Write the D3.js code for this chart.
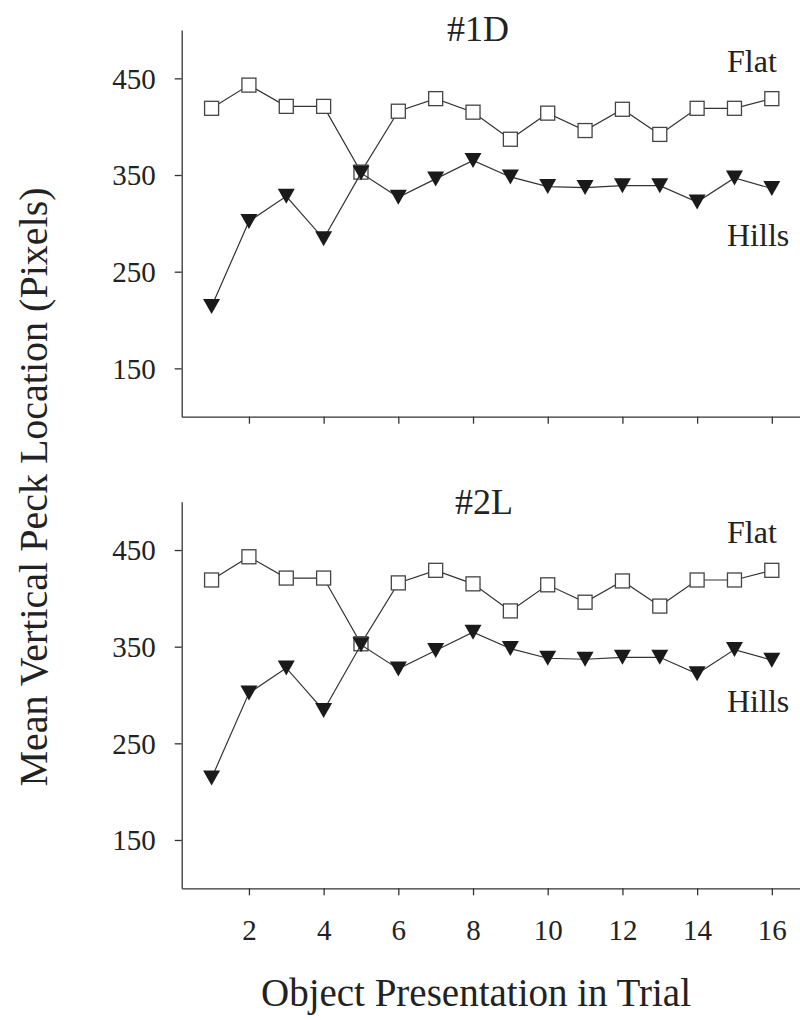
<!DOCTYPE html>
<html>
<head>
<meta charset="utf-8">
<script src="https://cdn.jsdelivr.net/npm/d3@7"></script>
<style>
  body { margin: 0; background: #fff; }
  svg text { font-family: "Liberation Serif", "Times New Roman", serif; fill: #222; }
</style>
</head>
<body>
<svg id="chart" width="800" height="1020"></svg>
<script>
// trial positions 1..16
const trials = d3.range(1, 17);

// panel #1D
const flat1D  = [419, 443, 421, 421, 353, 416, 429, 415, 387, 414, 396, 418, 392, 419, 419, 429];
const hills1D = [214, 302, 328, 284, 352, 327, 346, 365, 348, 338, 337, 339, 339, 322, 347, 336];

// panel #2L
const flat2L  = [419, 443, 421, 421, 353, 416, 429, 415, 387, 414, 396, 418, 392, 419, 419, 429];
const hills2L = [214, 302, 328, 284, 352, 327, 346, 365, 348, 338, 337, 339, 339, 322, 347, 336];

const yTicks = [150, 250, 350, 450];
const xTicks = [2, 4, 6, 8, 10, 12, 14, 16];

const svg = d3.select('#chart');

const x = d3.scaleLinear().domain([0.2, 16.8]).range([181.7, 801.7]);

const panels = [
  { title: '#1D', flat: flat1D, hills: hills1D, top: 30, bottom: 416.7, titleX: 478, titleY: 41, flatY: 72, hillsY: 246, labels: false },
  { title: '#2L', flat: flat2L, hills: hills2L, top: 501.7, bottom: 888.3, titleX: 484, titleY: 514, flatY: 543, hillsY: 712, labels: true }
];

const triangle = 'M-8.5,-7.5L8.5,-7.5L0,7.5Z';

panels.forEach(p => {
  const y = d3.scaleLinear().domain([100, 500]).range([p.bottom, p.top]);
  const g = svg.append('g');

  // axes
  const yAxis = g.append('g')
    .attr('transform', `translate(${x.range()[0]},0)`)
    .call(d3.axisLeft(y).tickValues(yTicks).tickSize(7).tickSizeOuter(0).tickPadding(19));
  yAxis.selectAll('text').attr('font-size', 29).attr('dy', '0.34em');

  const xAxis = g.append('g')
    .attr('transform', `translate(0,${p.bottom})`)
    .call(d3.axisBottom(x).tickValues(xTicks).tickSize(7).tickSizeOuter(0)
      .tickFormat(p.labels ? d3.format('d') : () => ''));
  xAxis.selectAll('text').attr('font-size', 29).attr('y', 52).attr('dy', 0);

  g.selectAll('.domain, .tick line').attr('stroke', '#333').attr('stroke-width', 1.3);

  const line = d3.line().x((d, i) => x(trials[i])).y(d => y(d));

  // flat series
  g.append('path').datum(p.flat)
    .attr('d', line).attr('fill', 'none').attr('stroke', '#333').attr('stroke-width', 1.2);
  g.selectAll('.sq').data(p.flat).enter().append('rect')
    .attr('class', 'sq')
    .attr('x', (d, i) => x(trials[i]) - 7)
    .attr('y', d => y(d) - 7)
    .attr('width', 14).attr('height', 14)
    .attr('fill', '#fff').attr('stroke', '#444').attr('stroke-width', 1.3);

  // hills series
  g.append('path').datum(p.hills)
    .attr('d', line).attr('fill', 'none').attr('stroke', '#333').attr('stroke-width', 1.2);
  g.selectAll('.tri').data(p.hills).enter().append('path')
    .attr('class', 'tri')
    .attr('transform', (d, i) => `translate(${x(trials[i])},${y(d)})`)
    .attr('d', triangle)
    .attr('fill', '#1a1a1a');

  // texts
  g.append('text').attr('x', p.titleX).attr('y', p.titleY)
    .attr('text-anchor', 'middle').attr('font-size', 36).text(p.title);
  g.append('text').attr('x', 727).attr('y', p.flatY).attr('font-size', 32).text('Flat');
  g.append('text').attr('x', 727).attr('y', p.hillsY).attr('font-size', 32).text('Hills');
});

// axis titles
svg.append('text')
  .attr('transform', 'translate(47,487) rotate(-90)')
  .attr('text-anchor', 'middle').attr('font-size', 40)
  .text('Mean Vertical Peck Location (Pixels)');

svg.append('text')
  .attr('x', 476).attr('y', 1006)
  .attr('text-anchor', 'middle').attr('font-size', 39)
  .text('Object Presentation in Trial');
</script>
</body>
</html>
